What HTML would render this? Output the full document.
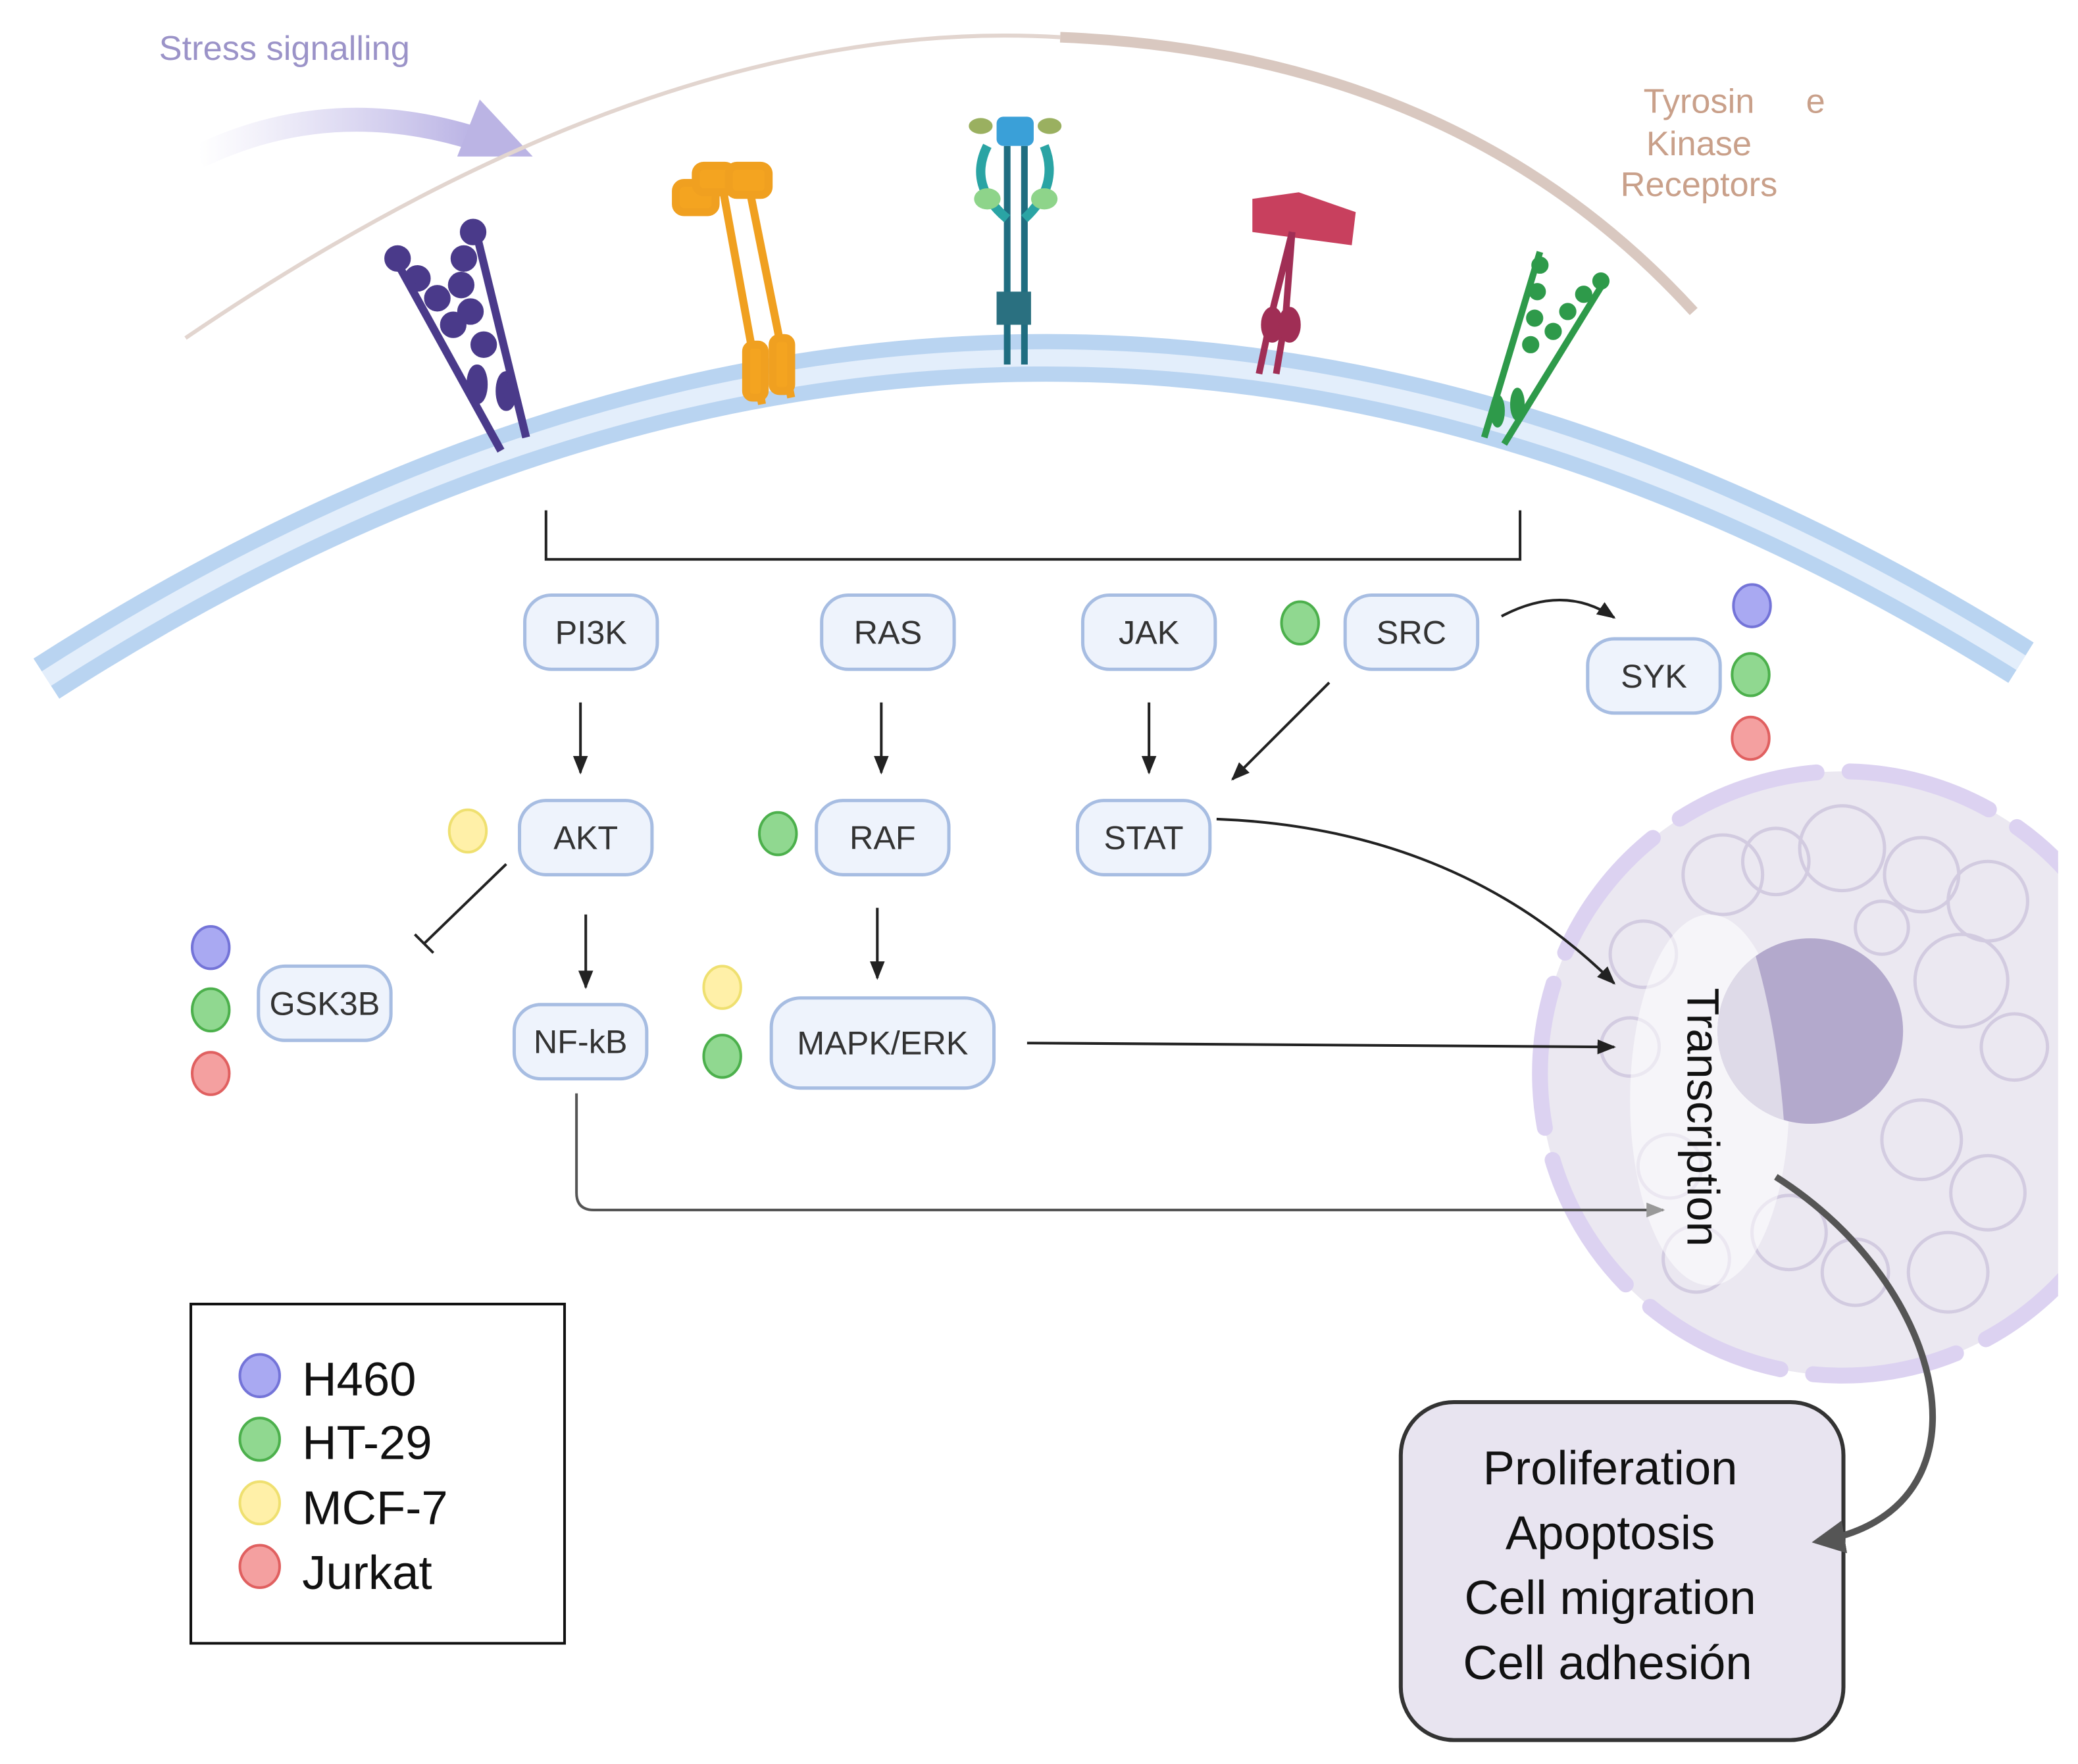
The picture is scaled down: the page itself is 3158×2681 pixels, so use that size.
<!DOCTYPE html>
<html><head><meta charset="utf-8"><style>
html,body{margin:0;padding:0;background:#fff;width:3158px;height:2681px;overflow:hidden}
svg{display:block}
.n{fill:#eef3fc;stroke:#a7bde2;stroke-width:2.5}
.t{font-family:"Liberation Sans",sans-serif;font-size:25px;fill:#333;text-anchor:middle;dominant-baseline:central}
.a{stroke:#222;stroke-width:2;fill:none}
</style></head><body>
<svg width="3158" height="2681" viewBox="0 0 1568 1331" xmlns="http://www.w3.org/2000/svg">
<defs>
<marker id="ah" viewBox="0 0 10 10" refX="9" refY="5" markerWidth="7" markerHeight="7" orient="auto-start-reverse"><path d="M0,1 L10,5 L0,9 z" fill="#222"/></marker>
<marker id="ag" viewBox="0 0 10 10" refX="9" refY="5" markerWidth="7" markerHeight="7" orient="auto"><path d="M0,1 L10,5 L0,9 z" fill="#999"/></marker>
<marker id="ad" viewBox="0 0 10 10" refX="8" refY="5" markerWidth="5" markerHeight="5" orient="auto"><path d="M0,0 L10,5 L0,10 z" fill="#555"/></marker>
<linearGradient id="pg" x1="0" x2="1"><stop offset="0" stop-color="#c8c2ea" stop-opacity="0"/><stop offset="1" stop-color="#b9b2e4"/></linearGradient>
<clipPath id="cc"><rect x="0" y="0" width="1553" height="1331"/></clipPath>
<clipPath id="nc"><circle cx="1366" cy="778" r="70"/></clipPath>
</defs>

<text x="120" y="45" font-family="Liberation Sans,sans-serif" font-size="26" fill="#9b93c8">Stress signalling</text>
<path d="M150,118 Q250,70 360,105" stroke="url(#pg)" stroke-width="18" fill="none"/>
<path d="M345,118 L362,75 L402,118 z" fill="#bbb4e4"/>
<path d="M140,255 Q500,10 800,28" stroke="#e2d5cf" stroke-width="3" fill="none"/>
<path d="M800,28 Q1100,40 1278,235" stroke="#d9c8c0" stroke-width="8" fill="none"/>
<g font-family="Liberation Sans,sans-serif" font-size="26" fill="#c9a08a" text-anchor="middle">
<text x="1282" y="85">Tyrosin</text><text x="1370" y="85">e</text>
<text x="1282" y="117">Kinase</text><text x="1282" y="148">Receptors</text></g>

<path d="M35,512 Q780,34 1525,500" stroke="#b9d4f1" stroke-width="36" fill="none"/>
<path d="M35,512 Q780,34 1525,500" stroke="#e3eefb" stroke-width="13" fill="none"/>

<g stroke="#4a3a8a" stroke-width="6" fill="#4a3a8a">
<path d="M298,195 L378,340 M358,170 L397,330" fill="none"/>
<circle cx="300" cy="195" r="7"/><circle cx="315" cy="210" r="7"/><circle cx="330" cy="225" r="7"/><circle cx="342" cy="245" r="7"/>
<circle cx="357" cy="175" r="7"/><circle cx="350" cy="195" r="7"/><circle cx="348" cy="215" r="7"/><circle cx="355" cy="235" r="7"/><circle cx="365" cy="260" r="7"/>
<ellipse cx="360" cy="290" rx="5" ry="12"/><ellipse cx="382" cy="295" rx="5" ry="12"/></g>
<g stroke="#f0a020" stroke-width="6" fill="#f4a420">
<path d="M545,140 L575,305 M565,140 L597,300" fill="none"/>
<rect x="510" y="138" width="30" height="22" rx="6"/><rect x="525" y="125" width="28" height="20" rx="6"/><rect x="550" y="125" width="30" height="22" rx="6"/>
<rect x="563" y="260" width="14" height="40" rx="5"/><rect x="583" y="255" width="14" height="40" rx="5"/></g>
<g>
<path d="M760,110 L760,275 M773,110 L773,275" stroke="#1f6d80" stroke-width="5"/>
<path d="M745,110 Q730,140 760,165 M788,110 Q800,140 773,165" stroke="#2aa4a4" stroke-width="7" fill="none"/>
<ellipse cx="745" cy="150" rx="10" ry="8" fill="#8ed48a"/><ellipse cx="788" cy="150" rx="10" ry="8" fill="#8ed48a"/>
<rect x="752" y="88" width="28" height="22" rx="5" fill="#3aa0d8"/>
<ellipse cx="740" cy="95" rx="9" ry="6" fill="#9ab060"/><ellipse cx="792" cy="95" rx="9" ry="6" fill="#9ab060"/>
<rect x="752" y="220" width="26" height="25" fill="#2a7080"/></g>
<g fill="#a02e55" stroke="#a02e55">
<path d="M945,150 L980,145 L1023,160 L1020,185 L945,175 z" stroke="none" fill="#c8405e"/>
<path d="M975,175 L960,235 L950,282 M975,175 L970,240 L963,282" stroke-width="5" fill="none"/>
<ellipse cx="960" cy="245" rx="8" ry="13"/><ellipse cx="973" cy="245" rx="8" ry="13"/></g>
<g fill="#2e9a4a" stroke="#2e9a4a">
<path d="M1162,190 L1120,330 M1212,210 L1135,335" stroke-width="5" fill="none"/>
<circle cx="1162" cy="200" r="6"/><circle cx="1160" cy="220" r="6"/><circle cx="1158" cy="240" r="6"/><circle cx="1155" cy="260" r="6"/>
<circle cx="1208" cy="212" r="6"/><circle cx="1195" cy="222" r="6"/><circle cx="1183" cy="235" r="6"/><circle cx="1172" cy="250" r="6"/>
<ellipse cx="1130" cy="310" rx="5" ry="12"/><ellipse cx="1145" cy="305" rx="5" ry="12"/></g>

<path d="M412,385 L412,422 L1147,422 L1147,385" class="a"/>

<g clip-path="url(#cc)">
<circle cx="1390" cy="810" r="228" fill="#ebe8f1"/>
<circle cx="1390" cy="810" r="228" fill="none" stroke="#dcd2f1" stroke-width="12" stroke-dasharray="110 25" stroke-linecap="round"/>
<g fill="none" stroke="#cdc4dd" stroke-width="2.5" opacity=".8">
<circle cx="1300" cy="660" r="30"/><circle cx="1340" cy="650" r="25"/><circle cx="1390" cy="640" r="32"/><circle cx="1450" cy="660" r="28"/><circle cx="1500" cy="680" r="30"/>
<circle cx="1480" cy="740" r="35"/><circle cx="1520" cy="790" r="25"/><circle cx="1450" cy="860" r="30"/><circle cx="1500" cy="900" r="28"/>
<circle cx="1470" cy="960" r="30"/><circle cx="1400" cy="960" r="25"/><circle cx="1350" cy="930" r="28"/><circle cx="1280" cy="950" r="25"/>
<circle cx="1230" cy="790" r="22"/><circle cx="1240" cy="720" r="25"/><circle cx="1260" cy="880" r="24"/><circle cx="1420" cy="700" r="20"/></g>
<ellipse cx="1290" cy="830" rx="60" ry="140" fill="#fff" opacity=".55"/>
<circle cx="1366" cy="778" r="70" fill="#b3a9cc"/>
<path d="M1290,700 L1318,700 Q1342,770 1347,860 L1290,860 z" fill="#dedae8" clip-path="url(#nc)"/>
</g>
<text x="1285" y="843" transform="rotate(90 1285 843)" font-family="Liberation Sans,sans-serif" font-size="34" fill="#111" text-anchor="middle" dominant-baseline="central">Transcription</text>

<rect class="n" x="396" y="449" width="100" height="56" rx="20"/><text class="t" x="446" y="477">PI3K</text>
<rect class="n" x="620" y="449" width="100" height="56" rx="20"/><text class="t" x="670" y="477">RAS</text>
<rect class="n" x="817" y="449" width="100" height="56" rx="20"/><text class="t" x="867" y="477">JAK</text>
<rect class="n" x="1015" y="449" width="100" height="56" rx="20"/><text class="t" x="1065" y="477">SRC</text>
<rect class="n" x="1198" y="482" width="100" height="56" rx="20"/><text class="t" x="1248" y="510">SYK</text>
<rect class="n" x="392" y="604" width="100" height="56" rx="20"/><text class="t" x="442" y="632">AKT</text>
<rect class="n" x="616" y="604" width="100" height="56" rx="20"/><text class="t" x="666" y="632">RAF</text>
<rect class="n" x="813" y="604" width="100" height="56" rx="20"/><text class="t" x="863" y="632">STAT</text>
<rect class="n" x="195" y="729" width="100" height="56" rx="20"/><text class="t" x="245" y="757">GSK3B</text>
<rect class="n" x="388" y="758" width="100" height="56" rx="20"/><text class="t" x="438" y="786">NF-kB</text>
<rect class="n" x="582" y="753" width="168" height="68" rx="22"/><text class="t" x="666" y="787">MAPK/ERK</text>

<path class="a" d="M438,530 L438,583" marker-end="url(#ah)"/>
<path class="a" d="M665,530 L665,583" marker-end="url(#ah)"/>
<path class="a" d="M867,530 L867,583" marker-end="url(#ah)"/>
<path class="a" d="M1003,515 L930,588" marker-end="url(#ah)"/>
<path class="a" d="M1133,465 Q1180,440 1218,466" marker-end="url(#ah)"/>
<path class="a" d="M442,690 L442,745" marker-end="url(#ah)"/>
<path class="a" d="M662,685 L662,738" marker-end="url(#ah)"/>
<path class="a" d="M382,652 L320,712 M313,705 L327,719"/>
<path class="a" d="M918,618 Q1100,625 1218,742" marker-end="url(#ah)"/>
<path class="a" d="M775,787 L1218,790" marker-end="url(#ah)"/>
<path d="M435,825 L435,900 Q435,913 448,913 L1255,913" stroke="#555" stroke-width="2" fill="none" marker-end="url(#ag)"/>

<g stroke-width="2">
<g fill="#a9a9f2" stroke="#7474d8"><ellipse cx="1322" cy="457" rx="14" ry="16"/><ellipse cx="159" cy="715" rx="14" ry="16"/></g>
<g fill="#90d890" stroke="#4cb04c"><ellipse cx="981" cy="470" rx="14" ry="16"/><ellipse cx="1321" cy="509" rx="14" ry="16"/><ellipse cx="587" cy="629" rx="14" ry="16"/><ellipse cx="159" cy="762" rx="14" ry="16"/><ellipse cx="545" cy="797" rx="14" ry="16"/></g>
<g fill="#fff0a8" stroke="#efe070"><ellipse cx="353" cy="627" rx="14" ry="16"/><ellipse cx="545" cy="745" rx="14" ry="16"/></g>
<g fill="#f4a0a0" stroke="#e06060"><ellipse cx="1321" cy="557" rx="14" ry="16"/><ellipse cx="159" cy="810" rx="14" ry="16"/></g>
</g>

<rect x="1057" y="1058" width="334" height="255" rx="40" fill="#e8e4f0" stroke="#333" stroke-width="3"/>
<path d="M1340,888 C1470,970 1510,1140 1372,1163" stroke="#555" stroke-width="5" fill="none" marker-end="url(#ad)"/>
<g font-family="Liberation Sans,sans-serif" font-size="36" fill="#111" text-anchor="middle">
<text x="1215" y="1120">Proliferation</text><text x="1215" y="1169">Apoptosis</text>
<text x="1215" y="1218">Cell migration</text><text x="1213" y="1267">Cell adhesión</text></g>

<rect x="144" y="984" width="282" height="256" fill="#fff" stroke="#111" stroke-width="2"/>
<g stroke-width="2">
<ellipse cx="196" cy="1038" rx="15" ry="16" fill="#a9a9f2" stroke="#7474d8"/>
<ellipse cx="196" cy="1086" rx="15" ry="16" fill="#90d890" stroke="#4cb04c"/>
<ellipse cx="196" cy="1134" rx="15" ry="16" fill="#fff0a8" stroke="#efe070"/>
<ellipse cx="196" cy="1182" rx="15" ry="16" fill="#f4a0a0" stroke="#e06060"/></g>
<g font-family="Liberation Sans,sans-serif" font-size="36" fill="#111">
<text x="228" y="1053">H460</text><text x="228" y="1101">HT-29</text><text x="228" y="1150">MCF-7</text><text x="228" y="1199">Jurkat</text></g>
</svg>
</body></html>
